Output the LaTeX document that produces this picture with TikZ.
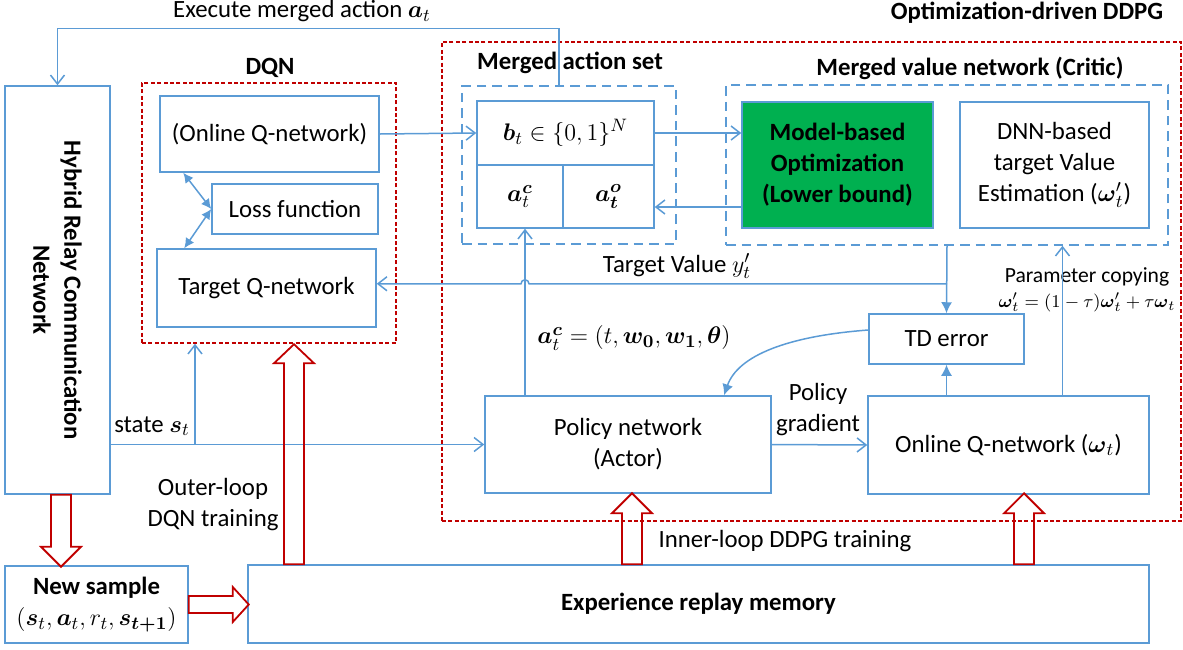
\documentclass[tikz,border=0pt]{standalone}
\usepackage{amsmath}
\usepackage{fontspec}
\setmainfont{Carlito}
\usepackage{tikz}
\usetikzlibrary{arrows.meta,calc}
\definecolor{lineblue}{RGB}{91,155,213}
\definecolor{dashred}{RGB}{192,0,0}
\definecolor{boxgreen}{RGB}{0,176,80}

\begin{document}
\begin{tikzpicture}[x=0.5pt,y=-0.5pt,
        font=\fontsize{12.4}{15.5}\selectfont,
        box/.style={draw=lineblue,line width=0.75pt,inner sep=0pt,align=center},
        redframe/.style={draw=dashred,line width=0.75pt,dash pattern=on 2pt off 1.2pt},
        blueframe/.style={draw=lineblue,line width=0.75pt,dash pattern=on 4.8pt off 3pt},
        arr/.style={draw=lineblue,line width=0.75pt,-{Straight Barb[length=4.5pt,width=7pt]}},
        farr/.style={draw=lineblue,line width=0.75pt,-{Latex[length=5.5pt,width=5.5pt]}},
        dblarr/.style={draw=lineblue,line width=0.75pt,{Latex[length=5pt,width=5pt]}-{Latex[length=5pt,width=5pt]}},
        hollow/.style={draw=dashred,line width=0.9pt},
        title/.style={font=\fontsize{12.4}{15.5}\selectfont\bfseries}]
        \useasboundingbox (0,0) rectangle (1183,649);
        % frames
        \node[redframe,minimum width=127pt,minimum height=130pt] (dqn) at (269,213) {};
        \node[redframe,minimum width=369.5pt,minimum height=239.5pt] (ddpg) at (811.5,281.5) {};
        \node[blueframe,minimum width=107pt,minimum height=79pt] (mas) at (569,165) {};
        \node[blueframe,minimum width=221pt,minimum height=80pt] (mvn) at (947,165) {};
        \node[title] (dqntitle) at (270,68) {DQN};
        \node[title] (mastitle) at (570,63) {Merged action set};
        \node[title] (mvntitle) at (970,68) {Merged value network (Critic)};
        \node[title] (ddpgtitle) at (1027,13) {Optimization-driven DDPG};
        % boxes
        \node[box,minimum width=52.5pt,minimum height=204pt] (hybrid) at (57.5,290) {};
        \node[title,rotate=-90,align=center] (hybridtxt) at (hybrid.center) {Hybrid Relay Communication\\Network};
        \node[box,minimum width=109.5pt,minimum height=38pt] (onlineq) at (269.5,134) {(Online Q-network)};
        \node[box,minimum width=83pt,minimum height=25pt] (loss) at (295,209) {Loss function};
        \node[box,minimum width=109.5pt,minimum height=39pt] (targetq) at (266.5,288) {Target Q-network};
        \node[box,minimum width=88.5pt,minimum height=32pt] (bt) at (565.5,133) {$\boldsymbol{b}_t\in\{0,1\}^N$};
        \node[box,minimum width=43pt,minimum height=31.5pt] (ac) at (520,196.5) {$\boldsymbol{a}_t^{\boldsymbol{c}}$};
        \node[box,minimum width=45.5pt,minimum height=31.5pt] (ao) at (608.5,196.5) {$\boldsymbol{a_t^o}$};
        \node[box,fill=boxgreen,minimum width=95.5pt,minimum height=63pt,font=\fontsize{12.4}{15.5}\selectfont\bfseries] (green) at (837.5,165) {Model-based\\Optimization\\(Lower bound)};
        \node[box,minimum width=94.5pt,minimum height=63pt] (dnn) at (1054.5,165) {DNN-based\\target Value\\Estimation ($\boldsymbol{\omega}'_t$)};
        \node[box,minimum width=77.5pt,minimum height=25pt] (td) at (946.5,339) {TD error};
        \node[box,minimum width=143pt,minimum height=48.5pt] (policy) at (628,444.5) {Policy network\\(Actor)};
        \node[box,minimum width=140.5pt,minimum height=49pt] (onlineqw) at (1008.5,445) {Online Q-network ($\boldsymbol{\omega}_t$)};
        \node[box,minimum width=450.5pt,minimum height=39pt,font=\fontsize{12.4}{15.5}\selectfont\bfseries] (memory) at (698.5,604) {Experience replay memory};
        \node[box,minimum width=91.5pt,minimum height=38.5pt] (newsample) at (96.5,604.5) {\textbf{New sample}\\$(\boldsymbol{s}_t,\boldsymbol{a}_t,r_t,\boldsymbol{s}_{\boldsymbol{t+1}})$};
        % labels
        \node (exec) at (302,11) {Execute merged action $\boldsymbol{a}_t$};
        \node (tvlabel) at (677,266) {Target Value $y'_t$};
        \node (aclabel) at (634,338) {$\boldsymbol{a}_t^{\boldsymbol{c}}=(t,\boldsymbol{w_0},\boldsymbol{w_1},\boldsymbol{\theta})$};
        \node[align=center,font=\fontsize{10.8}{12.5}\selectfont] (copylabel) at (1087,290) {Parameter copying\\{\fontsize{9.3}{11}\selectfont$\boldsymbol{\omega}'_t=(1-\tau)\boldsymbol{\omega}'_t+\tau\boldsymbol{\omega}_t$}};
        \node[align=center] (pglabel) at (818,410) {Policy\\gradient};
        \node (statelabel) at (152,426) {state $\boldsymbol{s}_t$};
        \node[align=center] (outerlabel) at (213,505) {Outer-loop\\DQN training};
        \node (innerlabel) at (785,541) {Inner-loop DDPG training};
        % connectors
        \draw[arr] ([xshift=-5pt]mas.north) -- ++(0,-57) -| (hybrid.north);
        \draw[arr] (onlineq.east) -- (bt.west);
        \draw[dblarr] ([xshift=12pt]onlineq.south west) -- (loss.west);
        \draw[dblarr] ([xshift=14pt]targetq.north west) -- (loss.west);
        \draw[arr] (bt.east) -- (bt.east -| green.west);
        \draw[arr] ([yshift=-21pt]green.west) -- ([yshift=-21pt]green.west -| ao.east);
        \draw[arr] ([xshift=2.5pt]ac.south |- policy.north) -- ([xshift=2.5pt]ac.south);
        \coordinate (tvsplit) at ($(mvn.south)+(0,38)$);
        \draw[farr] (mvn.south) -- (td.north);
        % small hop where the line crosses the actor output
        \draw[arr] (tvsplit) -- ([xshift=4.5pt]ac.south |- tvsplit) arc[start angle=0,end angle=-180,radius=4] -- (tvsplit -| targetq.east);
        \draw[farr] (td.south |- onlineqw.north) -- (td.south);
        \draw[arr] ([xshift=4pt]dnn.south |- onlineqw.north) -- ([xshift=4pt]dnn.south |- mvn.south);
        \draw[farr] ([yshift=4.5pt]td.west) .. controls +(-80,6) and +(14,-40) .. ([xshift=48pt]policy.north);
        \draw[arr] (policy.east) -- (onlineqw.west);
        \draw[arr] (hybrid.east |- policy.west) -- (policy.west);
        \draw[arr] ([xshift=-37pt]dqn.south |- policy.west) -- ([xshift=-37pt]dqn.south);
        % hollow block arrows
        \draw[hollow] (hybrid.south -| 51,0) -- ++(0,52) -- ++(-10,0) -- ++(20,20) -- ++(20,-20) -- ++(-10,0) -- ++(0,-52) -- cycle;
        \draw[hollow] (newsample.east |- 0,596) -- ++(44,0) -- ++(0,-9) -- ++(16,17.5) -- ++(-16,17.5) -- ++(0,-9) -- ++(-44,0) -- cycle;
        \draw[hollow] (memory.north -| 284,0) -- ++(0,-201) -- ++(-10,0) -- ++(20,-19) -- ++(20,19) -- ++(-10,0) -- ++(0,201) -- cycle;
        \draw[hollow] (memory.north -| 622,0) -- ++(0,-51) -- ++(-10,0) -- ++(20,-20) -- ++(20,20) -- ++(-10,0) -- ++(0,51) -- cycle;
        \draw[hollow] (memory.north -| 1014,0) -- ++(0,-51) -- ++(-10,0) -- ++(20,-20) -- ++(20,20) -- ++(-10,0) -- ++(0,51) -- cycle;
    \end{tikzpicture}
\end{document}
